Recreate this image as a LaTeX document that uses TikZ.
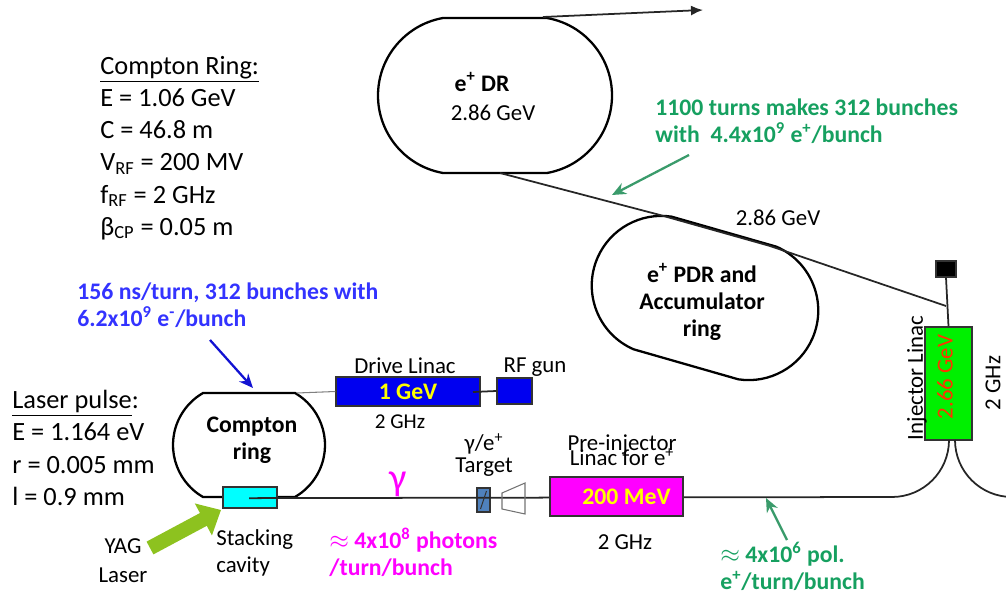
\documentclass[tikz,border=0pt]{standalone}
\usepackage{fontspec}
\setmainfont{Carlito}
\usepackage{tikz}
\usetikzlibrary{shapes.misc,arrows.meta}
\definecolor{noteblue}{HTML}{3333FF}
\definecolor{arrowblue}{HTML}{1212D2}
\definecolor{notegreen}{HTML}{16A060}
\definecolor{arrowgreen}{HTML}{3A9B6B}
\definecolor{yaggreen}{HTML}{8DC21F}
\definecolor{linacblue}{HTML}{0000F0}
\definecolor{targetblue}{HTML}{4F81BD}
\definecolor{gevred}{HTML}{FF3300}
\definecolor{injgreen}{HTML}{00F000}
\definecolor{textyellow}{HTML}{FFFF00}
\definecolor{cavcyan}{HTML}{00FFFF}
\definecolor{photonpink}{HTML}{FF00FF}
\tikzset{
  ring/.style={draw, line width=1.3pt, rounded rectangle, inner sep=0pt},
  beam/.style={black!85, line width=1pt},
  box/.style={draw=black!80, line width=0.7pt, inner sep=0pt},
  lbl/.style={inner sep=0pt, font=\fontsize{13}{16}\selectfont},
  blbl/.style={inner sep=0pt, font=\fontsize{13.5}{15.4}\selectfont\bfseries},
  params/.style={inner sep=0pt, align=left, anchor=west, font=\fontsize{15}{18.3}\selectfont},
  note/.style={blbl, align=left, anchor=west},
  pointer/.style={line width=1.3pt, -{Stealth[length=2.8mm,width=2.4mm]}},
  yag/.style={yaggreen, line width=2.9mm, -{Triangle[length=4mm,width=7mm]}},
}
\begin{document}
\begin{tikzpicture}[x=0.2mm,y=-0.2mm]
  \useasboundingbox (0,0) rectangle (1006,593);

  % rings
  \node[ring, minimum width=46.8mm, minimum height=31mm, rounded rectangle arc length=160] (dr) at (495,95.5) {};
  \node[ring, minimum width=46mm, minimum height=27.6mm, rounded rectangle arc length=165, rotate=-16] (pdr) at (705,298) {};
  \node[ring, minimum width=30.4mm, minimum height=20.8mm, rounded rectangle arc length=120] (cr) at (249,445) {};
  \node[blbl] (drname) at (482,82) {e\textsuperscript{+} DR};
  \node[lbl] (drenergy) at (493,113) {2.86 GeV};
  \node[blbl, align=center] (pdrname) at (702,302) {e\textsuperscript{+} PDR and\\Accumulator\\ring};
  \node[blbl, align=center] (crname) at (252,440) {Compton\\ring};

  % transfer lines
  \coordinate (drout) at (543,17);
  \coordinate (extract) at (703,10);
  \draw[beam, -{Latex[length=2.4mm,width=2mm]}] (drout) -- (extract);
  \coordinate (drin) at (500,173);
  \coordinate (pdrA) at (660,215);
  \coordinate (pdrB) at (770,246);
  \coordinate (injtop) at (946,306);
  \draw[beam] (drin) -- (pdrA) -- (pdrB) -- (injtop);
  \node[lbl] (transfer) at (778,218) {2.86 GeV};

  % injector linac
  \node[box, fill=injgreen, minimum width=9.4mm, minimum height=22.6mm] (inj) at (948.5,383.5) {};
  \node[lbl, rotate=90, text=gevred] at (945,377) {2.66 GeV};
  \node[box, fill=black, minimum width=4mm, minimum height=3.2mm] (dump) at (946,269) {};
  \draw[beam] (dump.south) -- (inj.north);
  \node[lbl, rotate=90] (injname) at (917,378) {Injector Linac};
  \node[lbl, rotate=90] (injfreq) at (993,383) {2 GHz};

  % main beam line
  \node[box, fill=cavcyan, minimum width=10.8mm, minimum height=4.2mm] (cavity) at (250,497.5) {};
  \node[box, fill=targetblue, minimum width=2.6mm, minimum height=4.8mm] (target) at (483.5,500) {};
  \coordinate (bend) at (892,497);
  \coordinate (injout) at (955,440);
  \draw[beam] (cr.south) -- (bend) arc[start angle=90, end angle=0, radius=57];
  \draw[beam] (injout) arc[start angle=180, end angle=90, radius=57];
  \draw[black!80, line width=0.6pt] (target.center) +(-3,9) -- +(3,-9);
  \draw[black!55, line width=0.6pt] (502,493) -- (525,483) -- (525,514) -- (502,509) -- cycle;
  \node[box, fill=photonpink, minimum width=26.6mm, minimum height=7.8mm, text=textyellow, font=\fontsize{13.5}{16}\selectfont\bfseries] (preinj) at (616.5,496.5) {\hspace{4mm}200 MeV};
  \node[lbl, align=center] (preinjname) at (622,450) {Pre-injector\\[-7.5pt]Linac for e\textsuperscript{+}};
  \node[lbl, align=center] (targetname) at (484,455) {γ/e\textsuperscript{+}\\[-3.4pt]Target};
  \node[lbl] (preinjfreq) at (625,542) {2 GHz};
  \node[inner sep=0pt, text=photonpink, font=\fontsize{22}{22}\selectfont] (gamma) at (398,484) {γ};

  % drive linac
  \coordinate (crtop) at (297,393);
  \node[box, fill=linacblue, minimum width=28.8mm, minimum height=5.8mm, text=textyellow, font=\fontsize{13.5}{16}\selectfont\bfseries] (drive) at (408,391.5) {1 GeV};
  \node[box, fill=linacblue, minimum width=7mm, minimum height=5.2mm] (rfgun) at (514.5,391) {};
  \draw[black!50, line width=0.6pt] (crtop) -- (drive.west);
  \coordinate (drivefeed) at (473,392);
  \draw[beam] (drivefeed) -- (rfgun.west);
  \node[lbl] (drivename) at (405,366) {Drive Linac};
  \node[lbl] (rfgunname) at (535,367) {RF gun};
  \node[lbl, font=\fontsize{12}{14}\selectfont] (drivefreq) at (400,422) {2 GHz};

  % parameters
  \node[params] (crlist) at (100,148) {\underline{Compton Ring:}\\E = 1.06 GeV\\C = 46.8 m\\V\textsubscript{RF} = 200 MV\\f\textsubscript{RF} = 2 GHz\\β\textsubscript{CP} = 0.05 m};
  \node[params] (laserlist) at (12,448) {\underline{Laser pulse}:\\E = 1.164 eV\\r = 0.005 mm\\l = 0.9 mm};

  % laser
  \node[lbl, align=center, font=\fontsize{13}{16.5}\selectfont] (yagname) at (123,561) {YAG\\Laser};
  \node[lbl, align=left, anchor=west, font=\fontsize{13}{15.4}\selectfont] (cavname) at (216,553) {Stacking\\cavity};
  \coordinate (yagtail) at (150,548);
  \coordinate (yagtip) at (221,510);
  \draw[yag] (yagtail) -- (yagtip);

  % notes
  \node[note, text=noteblue] (bunchnote) at (77,305) {156 ns/turn, 312 bunches with\\6.2x10\textsuperscript{9} e\textsuperscript{-}/bunch};
  \coordinate (bunchtail) at (210,340);
  \coordinate (bunchhead) at (253,388);
  \draw[pointer, arrowblue] (bunchtail) -- (bunchhead);
  \node[note, text=notegreen] (turnnote) at (655,121.5) {1100 turns makes 312 bunches\\with\ \ 4.4x10\textsuperscript{9} e\textsuperscript{+}/bunch};
  \coordinate (turntail) at (689,155);
  \coordinate (turnhead) at (612,195);
  \draw[pointer, arrowgreen] (turntail) -- (turnhead);
  \node[note, text=notegreen] (polnote) at (720,566) {$\approx$ 4x10\textsuperscript{6} pol.\\e\textsuperscript{+}/turn/bunch};
  \coordinate (poltail) at (787,540);
  \coordinate (polhead) at (766,498);
  \draw[pointer, arrowgreen] (poltail) -- (polhead);
  \node[note, text=photonpink] (photnote) at (329,552.5) {$\approx$ 4x10\textsuperscript{8} photons\\/turn/bunch};
\end{tikzpicture}
\end{document}
